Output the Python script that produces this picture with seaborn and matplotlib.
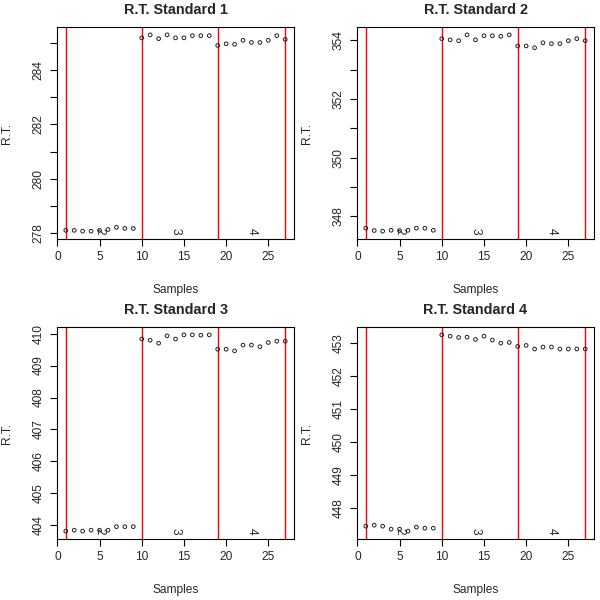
import numpy as np
import pandas as pd
import matplotlib
matplotlib.use('Agg')
import matplotlib.pyplot as plt
import seaborn as sns

# Amostras e lotes
samples = list(range(1, 28))
batch_lines = [1, 10, 19, 27]
batch_labels = ['2', '3', '4']
batch_label_x = [5, 14, 23]

# R.T. de cada padrão
std1 = [278.10, 278.10, 278.07, 278.07, 278.10, 278.13, 278.21, 278.17, 278.17,
        285.19, 285.30, 285.16, 285.30, 285.19, 285.19, 285.27, 285.27, 285.27,
        284.91, 284.97, 284.95, 285.10, 285.02, 285.02, 285.10, 285.27, 285.13]
std2 = [347.59, 347.51, 347.49, 347.52, 347.51, 347.52, 347.59, 347.59, 347.52,
        354.06, 354.02, 353.99, 354.19, 354.02, 354.16, 354.16, 354.14, 354.19,
        353.81, 353.81, 353.75, 353.92, 353.89, 353.89, 353.99, 354.06, 353.99]
std3 = [403.82, 403.85, 403.82, 403.85, 403.85, 403.85, 403.96, 403.96, 403.96,
        409.83, 409.79, 409.70, 409.93, 409.83, 409.96, 409.96, 409.95, 409.96,
        409.51, 409.51, 409.46, 409.64, 409.64, 409.59, 409.72, 409.76, 409.76]
std4 = [447.45, 447.48, 447.45, 447.36, 447.36, 447.30, 447.42, 447.39, 447.39,
        453.25, 453.21, 453.17, 453.18, 453.11, 453.21, 453.09, 453.00, 453.02,
        452.90, 452.93, 452.82, 452.88, 452.88, 452.82, 452.82, 452.82, 452.82]

titles = ['R.T. Standard 1', 'R.T. Standard 2', 'R.T. Standard 3', 'R.T. Standard 4']
series = [std1, std2, std3, std4]
label_step = [2, 2, 1, 1]

sns.set_theme(style='ticks')
plt.rcParams['font.family'] = ['Liberation Sans', 'DejaVu Sans']

fig = plt.figure(figsize=(6, 6), dpi=100)
posicoes = [(57, 27), (357, 27), (57, 327), (357, 327)]
w, h = 237, 212

for i in range(4):
    x0, y0 = posicoes[i]
    ax = fig.add_axes([x0 / 600, 1 - (y0 + h) / 600, w / 600, h / 600])
    df = pd.DataFrame({'Samples': samples, 'RT': series[i]})
    sns.scatterplot(data=df, x='Samples', y='RT', ax=ax, marker='o',
                    facecolor='none', edgecolor='#222222', linewidth=0.7, s=7, zorder=3)
    for xl in batch_lines:
        ax.axvline(xl, color='red', lw=1, zorder=2)
    ymin = min(series[i])
    ymax = max(series[i])
    for lab, xp in zip(batch_labels, batch_label_x):
        ax.text(xp, ymin, lab, rotation=-90, ha='center', va='center', fontsize=8.6)

    # limites estilo R (4%)
    r = ymax - ymin
    lo, hi = ymin - 0.04 * r, ymax + 0.04 * r
    ax.set_ylim(lo, hi)
    ax.set_xlim(1 - 0.04 * 26, 27 + 0.04 * 26)
    ax.set_xticks([0, 5, 10, 15, 20, 25])
    yt = np.arange(np.ceil(lo), np.floor(hi) + 1)
    ax.set_yticks(yt)
    ax.set_yticklabels([str(int(v)) if k % label_step[i] == 0 else '' for k, v in enumerate(yt)],
                       rotation=90, va='center')
    ax.tick_params(labelsize=8.6, length=5, width=0.8, color='black', pad=4)
    for sp in ax.spines.values():
        sp.set_color('black')
        sp.set_linewidth(0.8)
        sp.set_visible(True)
    ax.set_title(titles[i], fontsize=10.4, fontweight='bold', pad=9)
    ax.set_xlabel('Samples', fontsize=8.6, labelpad=15)
    ax.set_ylabel('R.T.', fontsize=8.6, labelpad=14)

fig.savefig('out.png', dpi=100)
